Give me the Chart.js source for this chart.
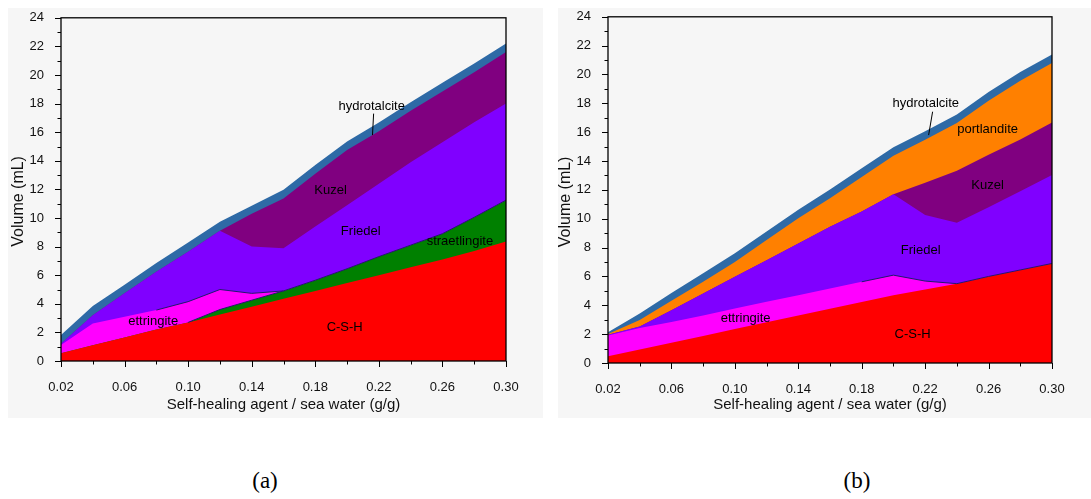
<!DOCTYPE html>
<html>
<head>
<meta charset="utf-8">
<script src="https://cdn.jsdelivr.net/npm/chart.js@4/dist/chart.umd.min.js"></script>
<style>
  body { margin: 0; background: #fff; width: 1091px; height: 499px; position: relative; overflow: hidden; }
  .panel { position: absolute; top: 8px; height: 410px; background: #f6f6f6; }
  .box { position: absolute; }
  .cap { position: absolute; top: 468px; width: 60px; text-align: center; font: 23px "Liberation Serif", "Times New Roman", serif; color: #000; }
</style>
</head>
<body>
<div class="panel" style="left:8px;width:535px"></div>
<div class="panel" style="left:558px;width:533px"></div>
<div class="box" style="left:8px;top:1px;width:535px;height:417px"><canvas id="chartA"></canvas></div>
<div class="box" style="left:558px;top:0px;width:533px;height:418px"><canvas id="chartB"></canvas></div>
<div class="cap" style="left:235px">(a)</div>
<div class="cap" style="left:827px">(b)</div>
<script>
// x = self-healing agent / sea water (g/g)
var xValues = [0.02, 0.04, 0.06, 0.08, 0.10, 0.12, 0.14, 0.16, 0.18, 0.20, 0.22, 0.24, 0.26, 0.28, 0.30];

// (a) phase volumes in mL, stacked bottom to top
var cshA     = [0.55, 1.10, 1.65, 2.20, 2.70, 3.25, 3.80, 4.35, 4.90, 5.45, 6.00, 6.55, 7.10, 7.70, 8.35];
var straetA  = [0, 0, 0, 0, 0, 0.35, 0.45, 0.55, 0.75, 1.00, 1.30, 1.55, 1.80, 2.35, 2.90];
var ettrA    = [0.57, 1.53, 1.45, 1.36, 1.45, 1.40, 0.48, 0, 0, 0, 0, 0, 0, 0, 0];
var friedelA = [0.08, 0.57, 1.63, 2.68, 3.49, 4.10, 3.27, 2.98, 3.75, 4.45, 5.10, 5.80, 6.40, 6.65, 6.75];
var kuzelA   = [0, 0, 0, 0, 0, 0, 2.30, 3.49, 3.70, 3.85, 3.67, 3.60, 3.55, 3.50, 3.60];
var hydroA   = [0.62, 0.64, 0.60, 0.62, 0.65, 0.64, 0.55, 0.60, 0.60, 0.60, 0.60, 0.60, 0.60, 0.60, 0.60];

// (b)
var cshB     = [0.46, 0.93, 1.40, 1.87, 2.35, 2.82, 3.29, 3.76, 4.23, 4.70, 5.10, 5.50, 6.00, 6.45, 6.90];
var ettrB    = [1.45, 1.50, 1.45, 1.43, 1.43, 1.42, 1.41, 1.41, 1.40, 1.39, 0.58, 0, 0, 0, 0];
var friedelB = [0.05, 0.10, 0.81, 1.52, 2.20, 2.89, 3.59, 4.28, 4.87, 5.61, 4.58, 4.23, 4.80, 5.45, 6.14];
var kuzelB   = [0, 0, 0, 0, 0, 0, 0, 0, 0, 0, 2.24, 3.59, 3.63, 3.60, 3.64];
var portB    = [0.05, 0.45, 0.65, 0.81, 1.02, 1.39, 1.74, 1.97, 2.40, 2.66, 2.97, 3.31, 3.75, 4.07, 4.12];
var hydroB   = [0.12, 0.45, 0.55, 0.60, 0.60, 0.60, 0.60, 0.60, 0.60, 0.60, 0.60, 0.60, 0.60, 0.60, 0.58];

var yMin = 0, yMax = 24;

var colors = {
  csh: "#ff0000", straet: "#008000", ettr: "#ff00ff", friedel: "#8000ff",
  kuzel: "#800080", port: "#ff8000", hydro: "#2e6aa6", edge: "#22196e"
};

// text labels placed in data units
var labelsA = [["hydrotalcite", 0.2155, 17.8], ["Kuzel", 0.1896, 11.9], ["Friedel", 0.2086, 9.08],
               ["straetlingite", 0.271, 8.39], ["ettringite", 0.078, 2.8], ["C-S-H", 0.1985, 2.38]];
var leaderA = [0.2167, 17.3, 0.2160, 15.8];
var labelsB = [["hydrotalcite", 0.2204, 17.98], ["portlandite", 0.2594, 16.17], ["Kuzel", 0.2594, 12.28],
               ["Friedel", 0.2172, 7.83], ["ettringite", 0.1068, 3.1], ["C-S-H", 0.2121, 1.99]];
var leaderB = [0.2247, 17.42, 0.2222, 15.8];

// thin dark boundary lines: [dataset index, first point, last point]
var edgesA = [[1, 4, 14], [2, 3, 7]];
var edgesB = [[1, 8, 14]];

var FONT = '"Liberation Sans", Arial, sans-serif';

// every layer filled down to zero; upper layers are drawn first so lower ones cover them
function layer(name, vals, color) {
  return {
    label: name,
    data: xValues.map(function (x, k) { return { x: x, y: vals[k] }; }),
    backgroundColor: color,
    borderColor: "rgba(0,0,0,0)",
    borderWidth: 0,
    pointRadius: 0,
    tension: 0,
    fill: "origin"
  };
}

var frameTicks = {
  id: "frameTicks",
  afterDatasetsDraw: function (chart, args, opts) {
    var ctx = chart.ctx;
    ctx.save();
    ctx.strokeStyle = colors.edge;
    ctx.lineWidth = 1;
    opts.edges.forEach(function (e) {
      var pts = chart.getDatasetMeta(e[0]).data;
      ctx.beginPath();
      for (var k = e[1]; k <= e[2]; k++) {
        if (k === e[1]) ctx.moveTo(pts[k].x, pts[k].y); else ctx.lineTo(pts[k].x, pts[k].y);
      }
      ctx.stroke();
    });
    ctx.restore();
  },
  afterDraw: function (chart, args, opts) {
    var ctx = chart.ctx, a = chart.chartArea, x = chart.scales.x, y = chart.scales.y;
    ctx.save();
    ctx.strokeStyle = "#000";
    ctx.lineWidth = 1.3;
    ctx.strokeRect(a.left, a.top, a.right - a.left, a.bottom - a.top);
    ctx.lineWidth = 1;
    ctx.beginPath();
    x.ticks.forEach(function (t) {
      var px = Math.round(x.getPixelForValue(t.value)) + 0.5;
      var len = t.label ? 6 : 3.5;
      ctx.moveTo(px, a.bottom); ctx.lineTo(px, a.bottom + len);
    });
    y.ticks.forEach(function (t) {
      var py = Math.round(y.getPixelForValue(t.value)) + 0.5;
      var len = t.label ? 6 : 3.5;
      ctx.moveTo(a.left - len, py); ctx.lineTo(a.left, py);
    });
    ctx.stroke();

    ctx.fillStyle = "#000";
    ctx.font = "13px " + FONT;
    ctx.textAlign = "center";
    ctx.textBaseline = "middle";
    opts.labels.forEach(function (l) {
      ctx.fillText(l[0], x.getPixelForValue(l[1]), y.getPixelForValue(l[2]));
    });
    var ld = opts.leader;
    ctx.beginPath();
    ctx.moveTo(x.getPixelForValue(ld[0]), y.getPixelForValue(ld[1]));
    ctx.lineTo(x.getPixelForValue(ld[2]), y.getPixelForValue(ld[3]));
    ctx.stroke();

    // y axis title, sitting a little below the middle as in the original
    ctx.fillStyle = "#111";
    ctx.font = "16px " + FONT;
    ctx.translate(opts.ytx, (a.top + a.bottom) / 2 + 12);
    ctx.rotate(-Math.PI / 2);
    ctx.fillText("Volume (mL)", 0, 0);
    ctx.restore();
  }
};

function makeChart(id, datasets, opt) {
  return new Chart(id, {
    type: "line",
    data: { datasets: datasets },
    plugins: [frameTicks],
    options: {
      responsive: true,
      maintainAspectRatio: false,
      animation: false,
      layout: { padding: { left: 0, top: 0, right: opt.right, bottom: 0 } },
      plugins: {
        legend: { display: false },
        tooltip: { enabled: false },
        frameTicks: { labels: opt.labels, leader: opt.leader, edges: opt.edges, ytx: opt.ytx }
      },
      scales: {
        x: {
          type: "linear",
          min: 0.02, max: 0.30,
          grid: { display: false },
          border: { display: false },
          afterFit: function (s) { s.height = opt.xh; },
          ticks: {
            stepSize: 0.02,
            padding: 11,
            color: "#111",
            font: { family: FONT, size: 13 },
            maxRotation: 0,
            autoSkip: false,
            callback: function (v) {
              return Math.round(v * 100) % 4 === 2 ? v.toFixed(2) : "";
            }
          },
          title: {
            display: true,
            text: "Self-healing agent / sea water (g/g)",
            color: "#111",
            font: { family: FONT, size: 15 },
            padding: { top: 0, bottom: 4 }
          }
        },
        y: {
          stacked: true,
          min: yMin, max: yMax,
          grid: { display: false },
          border: { display: false },
          afterFit: function (s) { s.width = opt.yw; },
          ticks: {
            stepSize: 1,
            padding: 9,
            color: "#111",
            font: { family: FONT, size: 13 },
            autoSkip: false,
            callback: function (v) { return v % 2 === 0 ? String(v) : ""; }
          },
          title: { display: false }
        }
      }
    }
  });
}

makeChart("chartA", [
  layer("C-S-H", cshA, colors.csh),
  layer("straetlingite", straetA, colors.straet),
  layer("ettringite", ettrA, colors.ettr),
  layer("Friedel", friedelA, colors.friedel),
  layer("Kuzel", kuzelA, colors.kuzel),
  layer("hydrotalcite", hydroA, colors.hydro)
], { right: 37, xh: 57, yw: 53, ytx: 11, labels: labelsA, leader: leaderA, edges: edgesA });

makeChart("chartB", [
  layer("C-S-H", cshB, colors.csh),
  layer("ettringite", ettrB, colors.ettr),
  layer("Friedel", friedelB, colors.friedel),
  layer("Kuzel", kuzelB, colors.kuzel),
  layer("portlandite", portB, colors.port),
  layer("hydrotalcite", hydroB, colors.hydro)
], { right: 39, xh: 55, yw: 50, ytx: 8, labels: labelsB, leader: leaderB, edges: edgesB });
</script>
</body>
</html>
